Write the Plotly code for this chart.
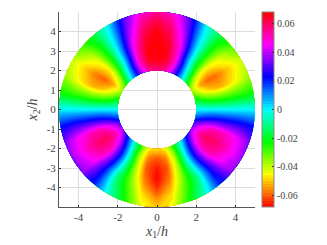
import numpy as np
import plotly.graph_objects as go

# radial stations (in h) and angles (deg) of the table
radius = [2.0, 2.5, 3.0, 3.5, 4.0, 4.5, 5.0]
angle = list(range(0, 361, 10))

# one row per angle, one column per radius
field = [
    [0.000, 0.000, 0.000, 0.000, 0.000, 0.000, 0.000],          # 0
    [-0.014, -0.022, -0.026, -0.027, -0.026, -0.025, -0.023],   # 10
    [-0.028, -0.042, -0.050, -0.052, -0.048, -0.042, -0.036],   # 20
    [-0.036, -0.052, -0.059, -0.058, -0.052, -0.046, -0.040],   # 30
    [-0.022, -0.038, -0.045, -0.045, -0.042, -0.036, -0.029],   # 40
    [0.000, -0.008, -0.016, -0.018, -0.018, -0.018, -0.016],    # 50
    [0.020, 0.020, 0.015, 0.012, 0.008, 0.005, 0.002],          # 60
    [0.042, 0.050, 0.050, 0.046, 0.040, 0.034, 0.030],          # 70
    [0.055, 0.064, 0.066, 0.064, 0.060, 0.055, 0.050],          # 80
    [0.056, 0.066, 0.068, 0.068, 0.067, 0.062, 0.055],          # 90
    [0.055, 0.064, 0.066, 0.064, 0.060, 0.055, 0.050],          # 100
    [0.042, 0.050, 0.050, 0.046, 0.040, 0.034, 0.030],          # 110
    [0.020, 0.020, 0.015, 0.012, 0.008, 0.005, 0.002],          # 120
    [0.000, -0.008, -0.016, -0.018, -0.018, -0.018, -0.016],    # 130
    [-0.022, -0.038, -0.045, -0.045, -0.042, -0.036, -0.029],   # 140
    [-0.036, -0.052, -0.059, -0.058, -0.052, -0.046, -0.040],   # 150
    [-0.028, -0.042, -0.050, -0.052, -0.048, -0.042, -0.036],   # 160
    [-0.014, -0.022, -0.026, -0.027, -0.026, -0.025, -0.023],   # 170
    [0.000, 0.000, 0.000, 0.000, 0.000, 0.000, 0.000],          # 180
    [0.013, 0.020, 0.024, 0.025, 0.025, 0.024, 0.022],          # 190
    [0.030, 0.044, 0.052, 0.052, 0.048, 0.042, 0.034],          # 200
    [0.037, 0.054, 0.060, 0.058, 0.052, 0.044, 0.037],          # 210
    [0.026, 0.044, 0.052, 0.052, 0.046, 0.040, 0.036],          # 220
    [0.008, 0.020, 0.026, 0.024, 0.020, 0.020, 0.020],          # 230
    [-0.012, -0.008, -0.005, -0.008, -0.012, -0.009, -0.004],   # 240
    [-0.032, -0.038, -0.038, -0.036, -0.032, -0.027, -0.022],   # 250
    [-0.046, -0.056, -0.060, -0.058, -0.053, -0.047, -0.043],   # 260
    [-0.047, -0.060, -0.066, -0.068, -0.064, -0.056, -0.050],   # 270
    [-0.046, -0.056, -0.060, -0.058, -0.053, -0.047, -0.043],   # 280
    [-0.032, -0.038, -0.038, -0.036, -0.032, -0.027, -0.022],   # 290
    [-0.012, -0.008, -0.005, -0.008, -0.012, -0.009, -0.004],   # 300
    [0.008, 0.020, 0.026, 0.024, 0.020, 0.020, 0.020],          # 310
    [0.026, 0.044, 0.052, 0.052, 0.046, 0.040, 0.036],          # 320
    [0.037, 0.054, 0.060, 0.058, 0.052, 0.044, 0.037],          # 330
    [0.030, 0.044, 0.052, 0.052, 0.048, 0.042, 0.034],          # 340
    [0.013, 0.020, 0.024, 0.025, 0.025, 0.024, 0.022],          # 350
    [0.000, 0.000, 0.000, 0.000, 0.000, 0.000, 0.000],          # 360
]

xaxis_ticks = [-4, -2, 0, 2, 4]
xaxis_labels = ["-4", "-2", "0", "2", "4"]
yaxis_ticks = [-4, -3, -2, -1, 0, 1, 2, 3, 4]
yaxis_labels = ["-4", "-3", "-2", "-1", "0", "1", "2", "3", "4"]
bar_ticks = [-0.06, -0.04, -0.02, 0, 0.02, 0.04, 0.06]
bar_labels = ["-0.06", "-0.04", "-0.02", "0", "0.02", "0.04", "0.06"]

hue_scale = [
    [0 / 6, "#ff0000"], [1 / 6, "#ffff00"], [2 / 6, "#00ff00"], [3 / 6, "#00ffff"],
    [4 / 6, "#0000ff"], [5 / 6, "#ff00ff"], [6 / 6, "#ff0000"],
]

rr, tt = np.meshgrid(radius, np.radians(angle))
xx = rr * np.cos(tt)
yy = rr * np.sin(tt)

FONT = "Liberation Serif"
TEXT = "#444444"

fig = go.Figure()
hidden = dict(showgrid=False, showline=False, showticklabels="none", startline=False, endline=False,
              minorgridcount=0)
fig.add_trace(go.Carpet(a=radius, b=angle, x=xx, y=yy, carpet="ring", aaxis=hidden, baxis=hidden,
                        xaxis="x", yaxis="y"))
fig.add_trace(go.Contourcarpet(
    a=radius, b=angle, z=field, carpet="ring", colorscale=hue_scale, zmin=-0.068, zmax=0.068,
    autocontour=False,
    contours=dict(coloring="fill", start=-0.068, end=0.068, size=0.002, showlines=False),
    line=dict(width=0),
    colorbar=dict(x=1.034, xanchor="left", y=0.5, yanchor="middle", len=1, lenmode="fraction", thickness=12,
                  xpad=0, ypad=0, outlinecolor="#888888", outlinewidth=1, tickvals=bar_ticks, ticktext=bar_labels,
                  ticks="inside", ticklen=2, tickcolor="#222222", tickfont=dict(family=FONT, size=10, color=TEXT)),
))
# the page adds an 8px body margin, so the figure is 8px smaller than the window
fig.update_layout(
    width=319, height=237, margin=dict(l=50.7, r=72.3, t=4, b=37.5),
    paper_bgcolor="white", plot_bgcolor="white", showlegend=False,
    font=dict(family=FONT, size=11, color=TEXT),
    xaxis=dict(range=[-5, 5], tickvals=xaxis_ticks, ticktext=xaxis_labels, showgrid=True, gridcolor="#dddddd",
               gridwidth=1, zeroline=False, showline=True, linecolor="#555555", linewidth=1, ticks="inside",
               ticklen=2, tickcolor="#333333", tickfont=dict(size=11, color=TEXT),
               title=dict(text="<i>x</i><sub>1</sub>/<i>h</i>", standoff=3, font=dict(size=14, color=TEXT))),
    yaxis=dict(range=[-5, 5], tickvals=yaxis_ticks, ticktext=yaxis_labels, showgrid=True, gridcolor="#dddddd",
               gridwidth=1, zeroline=False, showline=True, linecolor="#555555", linewidth=1, ticks="inside",
               ticklen=2, tickcolor="#333333", tickfont=dict(size=11, color=TEXT),
               title=dict(text="<i>x</i><sub>2</sub>/<i>h</i>", standoff=5, font=dict(size=14, color=TEXT))),
)
fig.write_html("out.html")
